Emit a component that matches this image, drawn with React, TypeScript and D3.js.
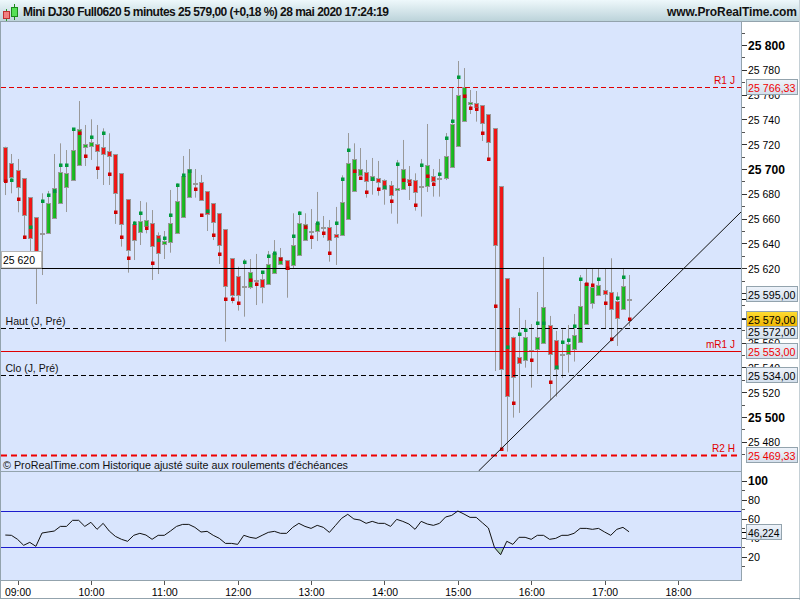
import React from "react";
import * as d3 from "d3";

const opens = [25718,25704.6,25698.9,25692.5,25677.2,25661,25648.1,25648.1,25660.2,25672.3,25685.2,25690.9,25703,25717.5,25718.3,25719.9,25717.5,25714.2,25711.8,25696.5,25675.5,25655.4,25648.9,25653.8,25656.2,25646.5,25639.3,25640.9,25648.1,25661,25677.2,25688.7,25689.2,25682,25672.3,25664.3,25651.3,25628,25613.4,25605.4,25605.1,25610.8,25611,25607.5,25615.9,25623.7,25626.4,25622.9,25630.4,25643,25650.3,25649.7,25653,25653,25647.3,25646.5,25659.4,25682,25694.9,25697.3,25690.9,25692.5,25690.9,25686.8,25682.8,25683.6,25691.7,25690.9,25686.6,25686,25694.1,25692.5,25692.5,25701.3,25718.3,25738.4,25752.1,25753,25751.3,25744.1,25732.8,25686.3,25611.9,25564.8,25548.7,25545.7,25554.1,25554.6,25559.4,25574,25561.9,25550.6,25550.6,25554.6,25560.2,25574.8,25591.7,25598.1,25602.2,25600.6,25593.3,25586.9,25595.5];
const closes = [25690.6,25693.3,25685.2,25662.6,25644.1,25629.3,25648.1,25672.3,25684.4,25697.3,25696.5,25715.1,25732,25719.9,25721.5,25714.2,25711.8,25710.2,25680.4,25655.4,25634.4,25642.5,25657.8,25658.6,25637.6,25632,25641.7,25656.2,25673.9,25694.4,25699.7,25688.7,25674.7,25663.4,25657,25638.4,25605.4,25598.1,25598.1,25605.4,25616.7,25610.8,25605.1,25623.1,25632,25628.8,25619.1,25638.4,25656.2,25655.4,25650.3,25656.2,25653,25642.5,25644.9,25673.1,25704.6,25707.8,25699.7,25690,25694.1,25689.2,25683.6,25678.8,25684.4,25699.7,25689.2,25681.2,25686.6,25703,25690,25692.5,25710.2,25736,25759.4,25765.9,25753.8,25749.7,25736.8,25721.5,25638.4,25538.5,25517.2,25532,25543.3,25564.3,25554.1,25564.3,25588.5,25550.6,25538.5,25550.6,25558.6,25565.9,25589.3,25607.8,25604.6,25606.2,25598.9,25586.9,25579.6,25605.4,25595.5];
const highs = [25718,25712.1,25708.1,25692.5,25677.2,25661,25680.4,25682.3,25712.1,25720.7,25715.3,25732.8,25754.8,25735.5,25740.1,25735.5,25732.8,25728.8,25711.8,25696.5,25675.5,25658.1,25674.2,25673.1,25666.9,25648.9,25650,25683.1,25688.4,25710.5,25716.1,25700,25695.2,25682,25672.3,25664.3,25651.3,25628,25621.2,25627.4,25627.4,25631.5,25617.7,25633.9,25642.7,25636.3,25626.4,25664.3,25666.1,25664.3,25667.7,25681.5,25662.1,25658.9,25669.4,25694.9,25729,25720.7,25716.9,25707.3,25708.9,25706.5,25691.7,25690.3,25707.3,25723.4,25702.4,25696.5,25708.1,25736.3,25700,25708.1,25729,25765.9,25787.1,25781.4,25763.7,25762.9,25751.3,25744.1,25732.8,25686.3,25611.9,25564.8,25587.9,25578.3,25575,25600.8,25629.1,25581.5,25569.4,25570.7,25574.2,25583.1,25614.5,25619.9,25619.9,25619.9,25619.9,25628,25600.6,25619.4,25614.5];
const lows = [25679,25680.4,25665.1,25644.9,25633.3,25591.1,25614.5,25648.1,25660.2,25672.3,25665.3,25690.9,25703,25702.4,25707.3,25691.9,25687.1,25687.1,25655.7,25637.4,25616.4,25626.6,25638.7,25648.1,25610.5,25615.3,25627.4,25632.5,25648.1,25661,25677.2,25676.9,25674.7,25650,25642.7,25623.4,25560.8,25591.7,25585.8,25580.9,25603.2,25590.3,25591.7,25607.5,25615.9,25622.6,25596.2,25619.9,25630.4,25642.2,25635.5,25641.9,25644.6,25625.3,25622.6,25646.5,25659.4,25682,25694.9,25676.9,25679.3,25678.5,25671.2,25664,25655.9,25683.6,25675,25666.4,25661.6,25681.5,25677.7,25677.7,25691.1,25701.3,25718.3,25738.4,25744.4,25738.2,25722.6,25707.8,25537.1,25474,25472.1,25499.5,25503.3,25539.8,25523.7,25534.7,25559.4,25513.7,25516.4,25531.5,25535.8,25544.7,25560.2,25574.8,25587.4,25598.1,25571.5,25560.8,25557.3,25586.9,25573.4];
const pivots = [25690,25690.9,25675.5,25644.9,25653,25626.6,25673.9,25678.8,25682,25703,25703,25732,25728.8,25710.2,25725.5,25700.5,25728.8,25695.7,25665.1,25644.9,25628,25656.2,25664.3,25652.2,25623.9,25642.5,25644.1,25662.6,25686.8,25694.9,25698.1,25683.6,25662.6,25665.9,25646.5,25631.2,25594.9,25594.9,25591.7,25624.7,25610.2,25607,25616.7,25629.6,25632,25627.2,25620,25645.7,25664.3,25653,25644.9,25656.2,25648.1,25632,25656.2,25691.7,25715.1,25698.1,25692.5,25681.2,25691.9,25683.6,25685.8,25673.9,25703.8,25690.9,25687.6,25670.7,25703,25694.1,25687.6,25695.7,25724.7,25738.4,25773.9,25758.6,25748.9,25748.1,25728.8,25707.8,25589.3,25474,25556.2,25511.1,25566.7,25569.9,25545.7,25575.6,25575.6,25528,25540.6,25560.2,25561.9,25573.1,25611,25607,25606.2,25611,25591.7,25562.7,25595.7,25612.7,25578.8];
const pivotGreen = [0,1,0,0,1,0,1,1,1,1,1,1,0,0,1,0,1,0,0,0,0,1,1,0,0,1,1,1,1,1,1,0,0,1,0,0,0,0,0,1,0,0,1,1,1,0,0,1,1,0,0,1,0,0,1,1,1,0,0,0,1,0,1,0,1,0,0,0,1,0,0,1,1,1,1,0,0,0,0,0,0,0,1,0,1,1,0,1,1,0,1,1,1,1,1,0,0,1,0,0,1,1,0];
const rsiValues = [42.8,42.5,38.3,32,35.1,30.9,44.9,46,47,51.9,51.9,58.3,58.3,51.9,56.2,48.8,55.1,47,41.4,38.3,36.2,42.5,44.6,42.8,38.3,42.5,42.5,47,51.9,54,54,50.9,46,46.7,42.5,39.3,34,34,33,42.5,40.4,39.3,42.5,45.6,46.7,44.6,44.6,50.9,55.1,51.9,49.8,53,50.9,45.6,53,60.4,64.6,59.7,58.6,55.1,57.2,55.1,55.1,51.9,59.3,57.2,54.4,48.8,57.2,54.4,53,55.1,61.8,63.5,68.1,64.9,61.4,61.4,55.8,50.2,29.5,22.1,36.2,33,40.4,40.4,38.3,42.5,42.5,38.3,39.3,42.5,42.5,44.6,49.8,49.8,48.8,49.8,46,42.5,48.8,50.9,46.2];

const priceTicks = [25800,25780,25760,25740,25720,25700,25680,25660,25640,25620,25600,25580,25560,25540,25520,25500,25480];
const boldPrices = [25800,25700,25500];
const minorPriceTicks = [25810,25790,25770,25750,25730,25710,25690,25670,25650,25630,25610,25590,25570,25550,25530,25510,25490,25470];
const rsiTicks = [100,80,60,40,20];
const rsiMinorTicks = [90,70,50,30,10];
const hourLabels = [9,10,11,12,13,14,15,16,17,18];
const levelR1 = 25766.33;
const levelHigh = 25572;
const levelMR1 = 25553;
const levelClose = 25534;
const levelR2 = 25469.33;
const levelUser = 25620;
const lastPrice = 25579;
const otherPrice = 25595;
const rsiUpper = 68.5;
const rsiLower = 30;
const rsiLast = 46.224;
const trendTimes = [15 * 60 + 17, 18 * 60 + 51.5];
const trendPrices = [25456.5, 25665.3];

const FONT = "'Liberation Sans', Arial, sans-serif";
const minuteOf = (i: number) => 8 * 60 + 50 + 5 * i;
const x = d3.scaleLinear().domain([8 * 60 + 50, 18 * 60]).range([5.3, 678]);
const y = d3.scaleLinear().domain([25500, 25800]).range([417, 45]);
const ry = d3.scaleLinear().domain([20, 100]).range([556.7, 480.7]);
const fr = d3.formatLocale({ decimal: ",", thousands: " ", grouping: [3], currency: ["", ""] });
const f0 = fr.format(",.0f");
const f2 = fr.format(",.2f");
const snap = (v: number) => Math.round(v) + 0.5;
const RIGHT = 741;
const GREY = "#93a3ad";

function Txt({ x: tx, y: ty, w, size = 11.5, bold = false, color = "#000", anchor, children }: any) {
  return (
    <text x={tx} y={ty} fontFamily={FONT} fontSize={size} fontWeight={bold ? "bold" : "normal"} fill={color} textAnchor={anchor} textLength={w} lengthAdjust="spacingAndGlyphs">{children}</text>
  );
}

function Tag({ center, text, color = "#000", w = 51, fill = "url(#tag)" }: { center: number; text: string; color?: string; w?: number; fill?: string }) {
  const c = Math.round(center);
  return (
    <g>
      <rect x={746.5} y={c - 7.5} width={w} height={15} fill={fill} stroke={GREY} />
      <Txt x={748} y={c + 4.5} w={w - 3.5} color={color}>{text}</Txt>
    </g>
  );
}

export default function App() {
  const rsiLine = d3.line<number>().x((_, i) => x(minuteOf(i))).y((v) => ry(v));
  const rsiArea = d3.area<number>().x((_, i) => x(minuteOf(i))).y0(ry(rsiLower)).y1((v) => ry(v));
  return (
    <svg width={800} height={600} style={{ position: "fixed", left: 0, top: 0, background: "#fff" }}>
      <defs>
        <linearGradient id="hdr" x1="0" y1="0" x2="0" y2="1">
          <stop offset="0" stopColor="#eef8fb" />
          <stop offset="1" stopColor="#bcd3da" />
        </linearGradient>
        <linearGradient id="tag" x1="0" y1="0" x2="0" y2="1">
          <stop offset="0" stopColor="#eef3fa" />
          <stop offset="1" stopColor="#d3dfec" />
        </linearGradient>
        <linearGradient id="gold" x1="0" y1="0" x2="0" y2="1">
          <stop offset="0" stopColor="#ffdd33" />
          <stop offset="1" stopColor="#eeb400" />
        </linearGradient>
        <linearGradient id="redBody" x1="0" y1="0" x2="1" y2="0">
          <stop offset="0" stopColor="#e02020" />
          <stop offset="0.5" stopColor="#f51515" />
          <stop offset="1" stopColor="#d81818" />
        </linearGradient>
        <linearGradient id="greenBody" x1="0" y1="0" x2="1" y2="0">
          <stop offset="0" stopColor="#28c828" />
          <stop offset="1" stopColor="#10a81c" />
        </linearGradient>
        <clipPath id="pricePane"><rect x={1} y={22} width={RIGHT - 1} height={449} /></clipPath>
        <clipPath id="under"><rect x={1} y={ry(rsiLower)} width={RIGHT - 1} height={40} /></clipPath>
      </defs>

      {/* frame */}
      <rect x={0} y={0} width={800} height={600} fill="#fff" />
      <rect x={1} y={22} width={RIGHT - 1} height={558} fill="#d9e5fd" />
      <rect x={0} y={0} width={800} height={21} fill="url(#hdr)" />
      <line x1={0} x2={800} y1={21.5} y2={21.5} stroke={GREY} />
      <line x1={0.5} x2={0.5} y1={21} y2={599} stroke={GREY} />
      <line x1={799.5} x2={799.5} y1={0} y2={600} stroke="#c5d0d6" />
      <line x1={RIGHT + 0.5} x2={RIGHT + 0.5} y1={21} y2={580} stroke={GREY} />
      <line x1={0} x2={RIGHT + 1} y1={471.5} y2={471.5} stroke={GREY} />
      <line x1={0} x2={RIGHT + 1} y1={580.5} y2={580.5} stroke={GREY} />
      <line x1={0} x2={800} y1={598.5} y2={598.5} stroke={GREY} />

      {/* header */}
      <line x1={6.5} x2={6.5} y1={9} y2={21} stroke="#2a9a2a" />
      <rect x={3.5} y={11.5} width={6} height={7} fill="#f08080" stroke="#c03030" />
      <line x1={14.5} x2={14.5} y1={4} y2={20} stroke="#1a8a1a" />
      <rect x={11.5} y={7.5} width={6} height={9} fill="#55e055" stroke="#1a8a1a" />
      <text x={23} y={16} fontFamily={FONT} fontWeight="bold" fontSize={12} fill="#111" textLength={366} lengthAdjust="spacing">Mini DJ30 Full0620 5 minutes 25 579,00 (+0,18 %) 28 mai 2020 17:24:19</text>
      <text x={797} y={16} textAnchor="end" fontFamily={FONT} fontWeight="bold" fontSize={12} fill="#111" textLength={130} lengthAdjust="spacing">www.ProRealTime.com</text>

      {/* candles */}
      <g clipPath="url(#pricePane)">
        {opens.map((o, i) => {
          const c = closes[i];
          const cx = snap(x(minuteOf(i)));
          const top = Math.round(y(Math.max(o, c))) + 0.5;
          const bot = Math.round(y(Math.min(o, c))) + 0.5;
          const isUp = c > o;
          return (
            <g key={i}>
              <line x1={cx} x2={cx} y1={y(highs[i])} y2={y(lows[i])} stroke="#999" />
              {o === c ? (
                <rect x={cx - 2.5} y={top - 0.5} width={5} height={2} fill="#999" />
              ) : (
                <rect x={cx - 2} y={top} width={4} height={Math.max(1, bot - top)} fill={isUp ? "url(#greenBody)" : "url(#redBody)"} stroke="#999" />
              )}
            </g>
          );
        })}
      </g>

      {/* levels */}
      <line x1={1} x2={RIGHT} y1={snap(y(levelUser))} y2={snap(y(levelUser))} stroke="#000" />
      <line x1={1} x2={RIGHT} y1={snap(y(levelR1))} y2={snap(y(levelR1))} stroke="#e00000" strokeDasharray="5 3" />
      <line x1={1} x2={RIGHT} y1={snap(y(levelHigh))} y2={snap(y(levelHigh))} stroke="#000" strokeDasharray="5 3" />
      <line x1={1} x2={RIGHT} y1={snap(y(levelMR1))} y2={snap(y(levelMR1))} stroke="#e00000" />
      <line x1={1} x2={RIGHT} y1={snap(y(levelClose))} y2={snap(y(levelClose))} stroke="#000" strokeDasharray="5 3" />
      <line x1={1} x2={RIGHT} y1={Math.round(y(levelR2)) + 0.5} y2={Math.round(y(levelR2)) + 0.5} stroke="#f00000" strokeWidth={2} strokeDasharray="6 4" />

      {/* pivots */}
      <g clipPath="url(#pricePane)">
        {pivots.map((p, i) => (
          <rect key={i} x={Math.round(x(minuteOf(i))) - 1} y={Math.round(y(p)) - 1.5} width={3.5} height={3.5} fill={pivotGreen[i] ? "#009a3c" : "#d00000"} />
        ))}
        <line x1={x(trendTimes[0])} x2={x(trendTimes[1])} y1={y(trendPrices[0])} y2={y(trendPrices[1])} stroke="#111" strokeWidth={1} />
      </g>

      {/* user label */}
      <rect x={1.5} y={251.5} width={40} height={16.5} fill="#fff" stroke="#b5b5b5" />
      <Txt x={3} y={264} w={32}>{f0(levelUser)}</Txt>

      {/* pane texts */}
      <Txt x={714} y={84} w={21} color="#e00000">R1 J</Txt>
      <Txt x={706} y={348} w={29} color="#e00000">mR1 J</Txt>
      <Txt x={712} y={452} w={23} color="#e00000">R2 H</Txt>
      <Txt x={5.5} y={325} w={60} color="#111">Haut (J, Pré)</Txt>
      <Txt x={5.5} y={372} w={53} color="#111">Clo (J, Pré)</Txt>
      <Txt x={3} y={469} w={345} color="#111">© ProRealTime.com  Historique ajusté suite aux roulements d'échéances</Txt>

      {/* price axis */}
      {minorPriceTicks.map((t) => (
        <line key={t} x1={RIGHT + 1} x2={RIGHT + 4} y1={snap(y(t))} y2={snap(y(t))} stroke="#555" />
      ))}
      {priceTicks.map((t) => {
        const b = boldPrices.includes(t);
        return (
          <g key={t}>
            <line x1={RIGHT + 1} x2={RIGHT + 6} y1={snap(y(t))} y2={snap(y(t))} stroke="#333" />
            <Txt x={748} y={y(t) + 4.5} size={b ? 13 : 11.5} bold={b} w={b ? 37 : 32}>{f0(t)}</Txt>
          </g>
        );
      })}
      <line x1={RIGHT + 1} x2={RIGHT + 6} y1={snap(y(otherPrice))} y2={snap(y(otherPrice))} stroke="#000" />
      <line x1={RIGHT + 1} x2={RIGHT + 6} y1={snap(y(lastPrice))} y2={snap(y(lastPrice))} stroke="#000" />
      <Tag center={y(levelR1)} text={f2(levelR1)} color="#f00000" />
      <Tag center={y(otherPrice) - 5} text={f2(otherPrice)} />
      <Tag center={y(levelHigh) + 3} text={f2(levelHigh)} />
      <Tag center={y(lastPrice)} text={f2(lastPrice)} fill="url(#gold)" />
      <Tag center={y(levelMR1)} text={f2(levelMR1)} color="#f00000" />
      <Tag center={y(levelClose)} text={f2(levelClose)} />
      <Tag center={y(levelR2)} text={f2(levelR2)} color="#f00000" />

      {/* RSI */}
      <path d={rsiArea(rsiValues) ?? ""} fill="#a9cdb8" clipPath="url(#under)" />
      <line x1={1} x2={RIGHT} y1={snap(ry(rsiUpper))} y2={snap(ry(rsiUpper))} stroke="#1c1ccc" />
      <line x1={1} x2={RIGHT} y1={snap(ry(rsiLower))} y2={snap(ry(rsiLower))} stroke="#1c1ccc" />
      <path d={rsiLine(rsiValues) ?? ""} fill="none" stroke="#111" strokeWidth={1} />
      {rsiMinorTicks.map((t) => (
        <line key={t} x1={RIGHT + 1} x2={RIGHT + 4} y1={snap(ry(t))} y2={snap(ry(t))} stroke="#555" />
      ))}
      {rsiTicks.map((t) => (
        <g key={t}>
          <line x1={RIGHT + 1} x2={RIGHT + 6} y1={snap(ry(t))} y2={snap(ry(t))} stroke="#333" />
          <Txt x={748} y={ry(t) + 4.5} size={t === 100 ? 13 : 11.5} bold={t === 100} w={t === 100 ? 20 : 12}>{t}</Txt>
        </g>
      ))}
      <line x1={RIGHT + 1} x2={RIGHT + 6} y1={snap(ry(rsiLast))} y2={snap(ry(rsiLast))} stroke="#000" />
      <Tag center={ry(rsiLast)} text={d3.format(".3f")(rsiLast).replace(".", ",")} w={35} />

      {/* time axis */}
      {hourLabels.map((h) => (
        <g key={h}>
          <line x1={snap(x(h * 60))} x2={snap(x(h * 60))} y1={581} y2={585} stroke="#555" />
          <Txt x={x(h * 60) - 12.5} y={596} w={26}>{`${String(h).padStart(2, "0")}:00`}</Txt>
        </g>
      ))}
    </svg>
  );
}
